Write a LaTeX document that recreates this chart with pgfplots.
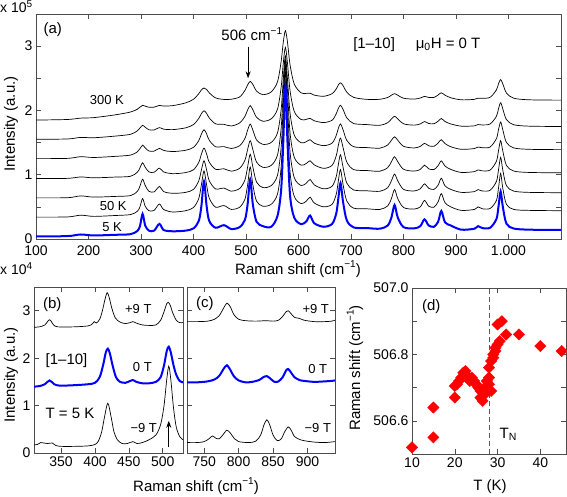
\documentclass[border=0pt]{standalone}
\usepackage{fontspec}
\setmainfont{Liberation Sans}
\usepackage{pgfplots}
\usepackage{pgfplotstable}
\pgfplotsset{compat=1.18}
\usetikzlibrary{arrows.meta}

\newcommand{\tfont}{\fontsize{14}{16}\selectfont}
\newcommand{\lfont}{\fontsize{15}{17}\selectfont}
\newcommand{\afont}{\fontsize{13}{15}\selectfont}
\newcommand{\expo}[1]{\raisebox{0.42em}{\fontsize{10}{10}\selectfont #1}}

\pgfplotstableread{
x s0 s1 s2 s3 s4 s5 s6
100 0.04 0.34 0.64 0.94 1.25 1.55 1.85
160 0.045 0.343 0.642 0.943 1.254 1.556 1.859
185 0.07 0.37 0.67 0.965 1.28 1.58 1.88
210 0.055 0.352 0.652 0.952 1.268 1.575 1.888
250 0.065 0.365 0.662 0.963 1.285 1.60 1.93
280 0.075 0.38 0.675 0.975 1.305 1.628 1.975
293 0.125 0.43 0.74 1.039 1.356 1.683 2.019
298 0.20 0.50 0.824 1.106 1.405 1.726 2.051
303 0.39 0.63 0.93 1.187 1.46 1.768 2.079
308 0.21 0.51 0.833 1.116 1.417 1.739 2.067
315 0.13 0.44 0.742 1.044 1.369 1.699 2.05
325 0.13 0.445 0.733 1.039 1.367 1.696 2.051
335 0.235 0.545 0.816 1.102 1.41 1.733 2.078
343 0.14 0.46 0.738 1.044 1.378 1.709 2.068
360 0.12 0.42 0.71 1.016 1.36 1.701 2.074
385 0.13 0.44 0.725 1.033 1.38 1.729 2.117
400 0.165 0.49 0.772 1.077 1.426 1.78 2.174
410 0.28 0.63 0.904 1.191 1.53 1.875 2.26
415 0.51 0.84 1.072 1.319 1.631 1.95 2.319
420 0.90 1.06 1.216 1.414 1.70 1.994 2.349
425 0.51 0.84 1.073 1.321 1.634 1.954 2.326
430 0.28 0.635 0.907 1.195 1.536 1.883 2.274
442 0.175 0.495 0.779 1.084 1.435 1.792 2.195
458 0.215 0.52 0.792 1.092 1.437 1.783 2.171
472 0.155 0.46 0.744 1.055 1.408 1.758 2.174
488 0.185 0.495 0.786 1.10 1.452 1.806 2.21
498 0.30 0.62 0.92 1.226 1.565 1.908 2.311
503 0.535 0.84 1.117 1.39 1.692 2.007 2.396
508 0.93 1.12 1.319 1.529 1.786 2.074 2.451
513 0.54 0.845 1.121 1.394 1.696 2.012 2.404
520 0.27 0.59 0.886 1.197 1.543 1.894 2.302
532 0.20 0.51 0.80 1.115 1.472 1.832 2.245
548 0.19 0.54 0.831 1.145 1.501 1.869 2.288
560 0.36 0.70 0.993 1.307 1.651 2.02 2.446
567 0.77 1.13 1.433 1.73 2.018 2.365 2.765
571 1.51 1.84 2.086 2.308 2.485 2.734 3.062
575 2.38 2.60 2.70 2.78 2.85 2.98 3.24
579 1.51 1.84 2.086 2.308 2.485 2.734 3.062
584 0.67 1.03 1.344 1.64 1.952 2.30 2.706
592 0.33 0.66 0.952 1.269 1.614 1.982 2.408
605 0.23 0.55 0.832 1.148 1.497 1.858 2.273
615 0.275 0.59 0.869 1.176 1.514 1.861 2.265
622 0.365 0.65 0.925 1.217 1.545 1.877 2.269
630 0.245 0.56 0.842 1.152 1.491 1.839 2.238
648 0.19 0.50 0.78 1.099 1.452 1.811 2.22
664 0.235 0.54 0.821 1.146 1.492 1.848 2.261
672 0.40 0.70 0.974 1.30 1.614 1.95 2.336
676 0.64 0.91 1.163 1.462 1.724 2.034 2.398
680 0.87 1.08 1.31 1.57 1.79 2.08 2.43
685 0.57 0.84 1.11 1.419 1.696 2.014 2.384
692 0.29 0.59 0.87 1.197 1.534 1.885 2.284
705 0.18 0.48 0.763 1.08 1.436 1.796 2.203
730 0.17 0.47 0.75 1.065 1.422 1.78 2.172
755 0.16 0.46 0.742 1.054 1.413 1.768 2.173
770 0.21 0.515 0.80 1.111 1.464 1.809 2.202
777 0.335 0.63 0.906 1.203 1.537 1.868 2.237
783 0.53 0.77 1.01 1.28 1.59 1.91 2.26
789 0.335 0.63 0.906 1.203 1.537 1.868 2.237
800 0.185 0.49 0.772 1.085 1.442 1.792 2.19
820 0.165 0.465 0.747 1.056 1.416 1.771 2.176
832 0.20 0.50 0.781 1.082 1.441 1.79 2.193
840 0.305 0.60 0.857 1.148 1.489 1.827 2.218
848 0.21 0.51 0.789 1.091 1.45 1.797 2.202
858 0.19 0.495 0.771 1.08 1.442 1.792 2.202
866 0.27 0.58 0.839 1.141 1.494 1.833 2.241
872 0.435 0.705 0.945 1.215 1.545 1.874 2.274
879 0.26 0.565 0.827 1.135 1.485 1.828 2.238
890 0.21 0.50 0.772 1.083 1.435 1.79 2.197
910 0.145 0.445 0.725 1.035 1.395 1.755 2.165
935 0.16 0.46 0.737 1.048 1.407 1.76 2.172
942 0.20 0.50 0.769 1.075 1.43 1.78 2.191
950 0.17 0.47 0.747 1.06 1.419 1.774 2.188
965 0.175 0.475 0.758 1.072 1.431 1.79 2.204
977 0.31 0.60 0.896 1.21 1.562 1.909 2.32
981 0.51 0.795 1.078 1.375 1.704 2.028 2.416
985 0.74 1.02 1.27 1.53 1.82 2.12 2.48
989 0.51 0.795 1.078 1.375 1.704 2.028 2.416
996 0.24 0.54 0.83 1.145 1.502 1.857 2.272
1010 0.163 0.46 0.745 1.057 1.417 1.777 2.19
1040 0.145 0.445 0.725 1.035 1.395 1.755 2.165
1100 0.14 0.44 0.72 1.03 1.39 1.75 2.16
}\tabA

\pgfplotsset{
 mat/.style={
  scale only axis, anchor=south west,
  axis line style={black!70, line width=0.6pt},
  every tick/.style={black!70, line width=0.5pt},
  tick align=inside, major tick length=5pt,
  tick label style={font=\tfont},
  /pgf/number format/assume math mode=true,
 },
 sblack/.style={black, line width=0.7pt, smooth, tension=0.5, mark=none},
 sblue/.style={blue, line width=2pt, smooth, tension=0.5, mark=none},
}

\begin{document}
\begin{tikzpicture}
\path[use as bounding box] (0pt,0pt) rectangle (567pt,497pt);

% ---------- panel (a)
\begin{axis}[mat, at={(36pt,258pt)}, width=525pt, height=225pt,
  xmin=100, xmax=1100, ymin=0, ymax=3.5,
  xtick={100,200,...,1000},
  xticklabels={100,200,300,400,500,600,700,800,900,1.000},
  xticklabel style={yshift=-3pt},
  ytick={0,0.5,...,3.5}, yticklabels={0,,1,,2,,3,}]
\addplot[sblack] table[x=x,y=s6]{\tabA};
\addplot[sblack] table[x=x,y=s5]{\tabA};
\addplot[sblack] table[x=x,y=s4]{\tabA};
\addplot[sblack] table[x=x,y=s3]{\tabA};
\addplot[sblack] table[x=x,y=s2]{\tabA};
\addplot[sblack] table[x=x,y=s1]{\tabA};
\addplot[sblue] table[x=x,y=s0]{\tabA};
\node[font=\lfont] at (axis cs:132,3.25) {(a)};
\node[font=\lfont, anchor=base] at (axis cs:511,3.09) {506 cm\expo{−1}};
\draw[-{Stealth[length=7pt,width=5pt]}, line width=0.8pt] (axis cs:504,2.98) -- (axis cs:504,2.5);
\node[font=\lfont, anchor=base] at (axis cs:744,2.97) {[1–10]};
\node[font=\lfont, anchor=base] at (axis cs:885,2.97) {μ\textsubscript{0}H = 0 T};
\node[font=\afont, anchor=base] at (axis cs:235,2.09) {300 K};
\node[font=\afont, anchor=base] at (axis cs:247,0.45) {50 K};
\node[font=\afont, anchor=base] at (axis cs:245,0.11) {5 K};
\end{axis}
\node[font=\tfont, anchor=base west, inner sep=0pt] at (0pt,484pt) {x 10\expo{5}};
\node[font=\lfont, rotate=90] at (11pt,373pt) {Intensity (a.u.)};
\node[font=\lfont] at (298pt,228pt) {Raman shift (cm\expo{−1})};

% ---------- panel (b)
\begin{axis}[mat, at={(34pt,44pt)}, width=149pt, height=166pt,
  xmin=310, xmax=530, ymin=0, ymax=3.5,
  xtick={350,400,450,500}, ytick={0,1,2,3}]
\addplot[sblack] coordinates {(310,2.65) (318,2.66) (326,2.7) (333,2.81) (339,2.7) (345,2.66) (370,2.66) (390,2.68) (396,2.72) (399,2.77) (402,2.74) (407,2.82) (411,3.0) (415,3.25) (418,3.38) (421,3.28) (425,3.05) (430,2.85) (437,2.76) (445,2.73) (452,2.75) (456,2.77) (461,2.74) (470,2.7) (480,2.69) (490,2.7) (497,2.8) (502,2.98) (506,3.15) (508,3.18) (511,3.12) (515,2.95) (520,2.8) (525,2.75) (530,2.75)};
\addplot[sblack] coordinates {(310,0.17) (315,0.18) (320,0.22) (325,0.21) (330,0.2) (337,0.21) (342,0.16) (350,0.14) (370,0.14) (390,0.15) (400,0.18) (405,0.25) (410,0.45) (414,0.75) (419,1.05) (424,0.75) (428,0.45) (433,0.28) (440,0.2) (448,0.2) (456,0.24) (462,0.2) (470,0.22) (480,0.28) (490,0.38) (497,0.6) (502,1.0) (506,1.55) (509,1.83) (512,1.55) (516,0.95) (520,0.55) (525,0.35) (530,0.28)};
\addplot[sblue] coordinates {(310,1.40) (318,1.41) (326,1.45) (333,1.53) (340,1.45) (348,1.42) (370,1.43) (390,1.45) (400,1.48) (407,1.6) (412,1.85) (416,2.12) (419,2.2) (422,2.1) (426,1.85) (431,1.6) (437,1.5) (445,1.48) (452,1.52) (456,1.54) (461,1.5) (470,1.47) (480,1.47) (490,1.5) (497,1.6) (502,1.85) (506,2.15) (509,2.24) (512,2.12) (516,1.85) (520,1.65) (525,1.52) (530,1.49)};
\draw[-{Stealth[length=7pt,width=5pt]}, line width=0.8pt] (axis cs:509,0.12) -- (axis cs:509,0.68);
\node[font=\lfont] at (axis cs:337,3.12) {(b)};
\node[font=\afont] at (axis cs:464,3.03) {+9 T};
\node[font=\lfont] at (axis cs:358,1.94) {[1–10]};
\node[font=\afont] at (axis cs:470,1.82) {0 T};
\node[font=\lfont] at (axis cs:363,0.83) {T = 5 K};
\node[font=\afont] at (axis cs:472,0.53) {−9 T};
\end{axis}
\node[font=\tfont, anchor=base west, inner sep=0pt] at (0pt,222pt) {x 10\expo{4}};
\node[font=\lfont, rotate=90] at (11pt,122pt) {Intensity (a.u.)};
\node[font=\lfont] at (196pt,11pt) {Raman shift (cm\expo{−1})};

% ---------- panel (c)
\begin{axis}[mat, at={(187pt,44pt)}, width=148pt, height=166pt,
  xmin=725, xmax=940, ymin=0, ymax=3.5,
  xtick={750,800,850,900}, ytick={0,1,2,3}, yticklabels={,,,}]
\addplot[sblack] coordinates {(725,2.77) (740,2.77) (755,2.78) (765,2.82) (772,2.9) (778,3.05) (783,3.16) (788,3.08) (793,2.92) (800,2.82) (810,2.79) (825,2.78) (840,2.79) (850,2.78) (858,2.8) (864,2.88) (869,2.98) (872,3.0) (876,2.94) (881,2.86) (888,2.84) (895,2.8) (910,2.77) (925,2.77) (935,2.78) (940,2.8)};
\addplot[sblack] coordinates {(725,0.22) (740,0.22) (750,0.24) (757,0.3) (762,0.36) (767,0.31) (772,0.3) (777,0.38) (783,0.48) (788,0.42) (794,0.3) (800,0.24) (815,0.22) (825,0.25) (832,0.38) (837,0.6) (841,0.7) (845,0.6) (850,0.38) (856,0.26) (862,0.3) (867,0.45) (872,0.55) (876,0.49) (881,0.35) (888,0.29) (895,0.26) (910,0.23) (925,0.22) (940,0.24)};
\addplot[sblue] coordinates {(725,1.49) (740,1.49) (755,1.51) (765,1.55) (772,1.63) (778,1.77) (783,1.85) (788,1.75) (793,1.62) (800,1.53) (810,1.49) (820,1.5) (830,1.54) (836,1.6) (841,1.62) (846,1.57) (852,1.5) (858,1.51) (864,1.6) (869,1.74) (872,1.77) (876,1.7) (881,1.6) (888,1.54) (895,1.52) (910,1.5) (925,1.51) (935,1.52) (940,1.53)};
\node[font=\lfont] at (axis cs:751,3.16) {(c)};
\node[font=\afont] at (axis cs:912,3.03) {+9 T};
\node[font=\afont] at (axis cs:915,1.78) {0 T};
\node[font=\afont] at (axis cs:915,0.53) {−9 T};
\end{axis}

% ---------- panel (d)
\begin{axis}[mat, at={(412pt,43pt)}, width=154pt, height=166pt,
  xmin=10, xmax=46, ymin=506.5, ymax=507.0,
  xtick={10,20,30,40},
  ytick={506.5,506.6,506.7,506.8,506.9,507.0},
  yticklabels={,506.6,,506.8,,507.0}, clip=false]
\addplot[gray!70!black, dashed, line width=0.8pt, dash pattern=on 5pt off 3pt] coordinates {(28,506.5) (28,507.0)};
\addplot[only marks, mark=square*, mark size=4pt, color=red, mark options={rotate=45, fill=red, draw=red}] coordinates {
(10,506.52) (15,506.55) (15,506.64) (20,506.67) (20,506.705) (20.5,506.71) (21,506.72) (21.5,506.73) (22,506.745) (22.5,506.75) (23,506.735) (23.5,506.72) (24,506.73) (24.5,506.72) (25,506.71) (25.5,506.70) (26,506.69) (26,506.67) (26.5,506.66) (27,506.68) (27,506.70) (27.5,506.72) (28,506.71) (28.5,506.69) (28,506.73) (28,506.76) (28.5,506.78) (29,506.79) (29,506.80) (29.5,506.81) (29.5,506.82) (30,506.83) (30.5,506.84) (30,506.89) (31,506.90) (32,506.86) (35,506.86) (40,506.825) (45,506.81)};
\node[font=\lfont] at (axis cs:14.5,506.945) {(d)};
\node[font=\lfont] at (axis cs:32.5,506.56) {T\textsubscript{N}};
\end{axis}
\node[font=\lfont, rotate=90] at (355pt,129pt) {Raman shift (cm\expo{−1})};
\node[font=\lfont] at (490pt,10pt) {T (K)};
\end{tikzpicture}
\end{document}
